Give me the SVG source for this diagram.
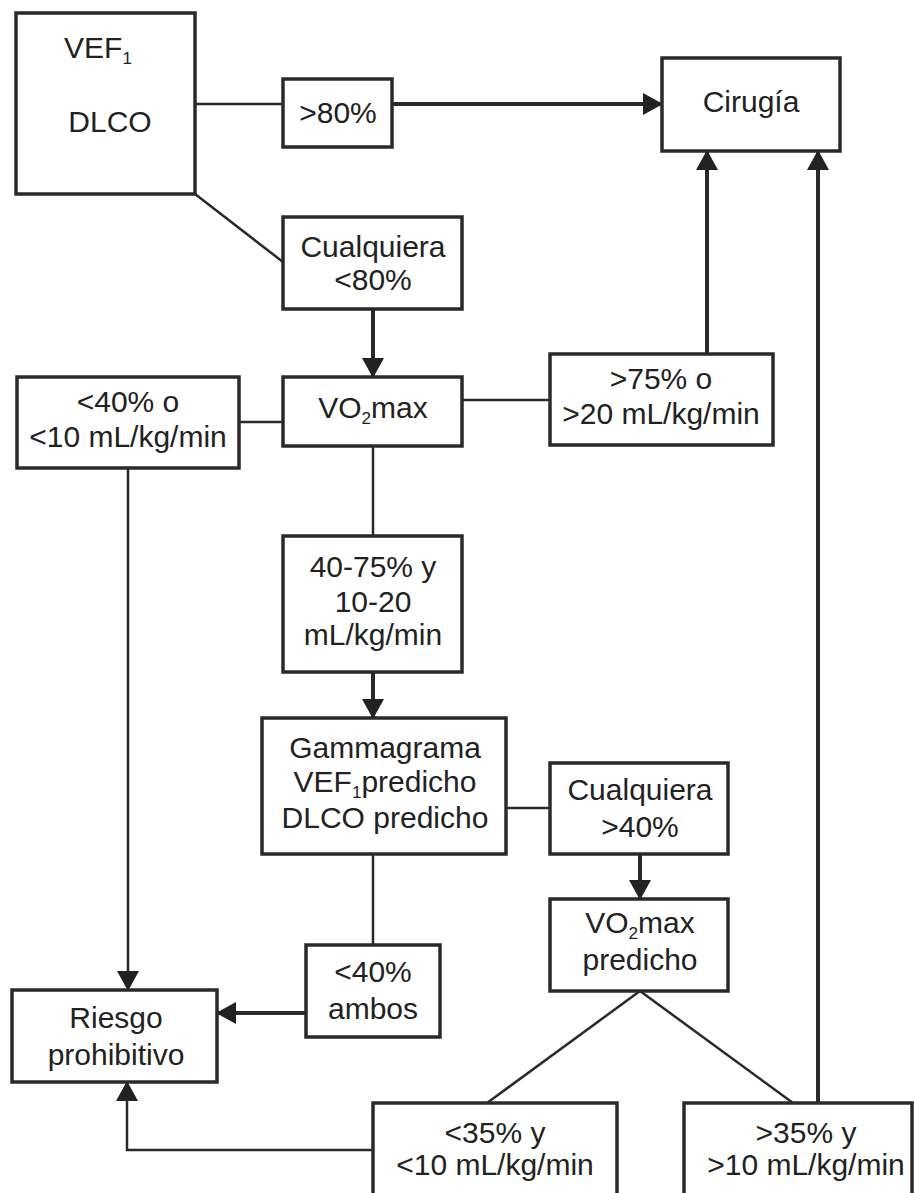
<svg xmlns="http://www.w3.org/2000/svg" width="914" height="1193" viewBox="0 0 914 1193">
<style>
.box{fill:#fff;stroke:#2a2a2a;stroke-width:3.5}
.t{font-family:"Liberation Sans",Arial,sans-serif;font-size:30px;fill:#222;text-anchor:middle}
.sub{font-size:17px}
.thin{stroke:#2a2a2a;stroke-width:2.5;fill:none}
.thick{stroke:#2a2a2a;stroke-width:4;fill:none}
</style>
<defs>
<marker id="ah" markerUnits="userSpaceOnUse" markerWidth="20" markerHeight="22" refX="19" refY="11" orient="auto">
<path d="M0,0 L20,11 L0,22 z" fill="#222"/>
</marker>
</defs>
<rect width="914" height="1193" fill="#fff"/>
<g id="connectors">
<line class="thin" x1="195" y1="104" x2="283" y2="104"/>
<line class="thick" x1="392" y1="104" x2="662" y2="104" marker-end="url(#ah)"/>
<line class="thin" x1="195" y1="194" x2="283" y2="262"/>
<line class="thick" x1="373" y1="309" x2="373" y2="377" marker-end="url(#ah)"/>
<line class="thin" x1="239" y1="422" x2="283" y2="422"/>
<line class="thin" x1="462" y1="400" x2="550" y2="400"/>
<line class="thick" x1="707" y1="354" x2="707" y2="151" marker-end="url(#ah)"/>
<line class="thick" x1="818" y1="1103" x2="818" y2="151" marker-end="url(#ah)"/>
<line class="thin" x1="373" y1="446" x2="373" y2="536"/>
<line class="thick" x1="373" y1="672" x2="373" y2="718" marker-end="url(#ah)"/>
<line class="thin" x1="128" y1="468" x2="128" y2="990" marker-end="url(#ah)"/>
<line class="thin" x1="506" y1="808" x2="550" y2="808"/>
<line class="thick" x1="640" y1="854" x2="640" y2="899" marker-end="url(#ah)"/>
<line class="thin" x1="373" y1="854" x2="373" y2="945"/>
<line class="thick" x1="306" y1="1013" x2="217" y2="1013" marker-end="url(#ah)"/>
<line class="thin" x1="640" y1="991" x2="487" y2="1103"/>
<line class="thin" x1="640" y1="991" x2="793" y2="1103"/>
<polyline class="thin" points="373,1150 127,1150 127,1082" marker-end="url(#ah)"/>
</g>
<g id="n-vef-dlco">
<rect class="box" x="16" y="13" width="179" height="181"/>
<text class="t" x="98" y="58">VEF<tspan class="sub" dy="6">1</tspan></text>
<text class="t" x="110" y="132">DLCO</text>
</g>
<g id="n-gt80">
<rect class="box" x="283" y="79" width="109" height="68"/>
<text class="t" x="338" y="123">&gt;80%</text>
</g>
<g id="n-cirugia">
<rect class="box" x="662" y="58" width="178" height="93"/>
<text class="t" x="751" y="112">Cirugía</text>
</g>
<g id="n-cualquiera80">
<rect class="box" x="283" y="217" width="179" height="92"/>
<text class="t" x="373" y="257">Cualquiera</text>
<text class="t" x="373" y="290">&lt;80%</text>
</g>
<g id="n-lt40">
<rect class="box" x="17" y="377" width="222" height="91"/>
<text class="t" x="128" y="412">&lt;40% o</text>
<text class="t" x="128" y="447">&lt;10 mL/kg/min</text>
</g>
<g id="n-vo2max">
<rect class="box" x="283" y="377" width="179" height="69"/>
<text class="t" x="373" y="418">VO<tspan class="sub" dy="6">2</tspan><tspan dy="-6">max</tspan></text>
</g>
<g id="n-gt75">
<rect class="box" x="550" y="354" width="223" height="91"/>
<text class="t" x="661" y="389">&gt;75% o</text>
<text class="t" x="661" y="424">&gt;20 mL/kg/min</text>
</g>
<g id="n-40-75">
<rect class="box" x="283" y="536" width="179" height="136"/>
<text class="t" x="373" y="577">40-75% y</text>
<text class="t" x="373" y="612">10-20</text>
<text class="t" x="373" y="645">mL/kg/min</text>
</g>
<g id="n-gammagrama">
<rect class="box" x="262" y="718" width="244" height="136"/>
<text class="t" x="385" y="758">Gammagrama</text>
<text class="t" x="385" y="792">VEF<tspan class="sub" dy="6">1</tspan><tspan dy="-6">predicho</tspan></text>
<text class="t" x="385" y="828">DLCO predicho</text>
</g>
<g id="n-cualquiera40">
<rect class="box" x="550" y="763" width="178" height="91"/>
<text class="t" x="640" y="800">Cualquiera</text>
<text class="t" x="640" y="837">&gt;40%</text>
</g>
<g id="n-vo2pred">
<rect class="box" x="550" y="899" width="178" height="92"/>
<text class="t" x="640" y="933">VO<tspan class="sub" dy="6">2</tspan><tspan dy="-6">max</tspan></text>
<text class="t" x="640" y="970">predicho</text>
</g>
<g id="n-lt40ambos">
<rect class="box" x="306" y="945" width="134" height="92"/>
<text class="t" x="373" y="982">&lt;40%</text>
<text class="t" x="373" y="1019">ambos</text>
</g>
<g id="n-riesgo">
<rect class="box" x="12" y="990" width="205" height="92"/>
<text class="t" x="116" y="1028">Riesgo</text>
<text class="t" x="116" y="1065">prohibitivo</text>
</g>
<g id="n-lt35">
<rect class="box" x="373" y="1103" width="244" height="100"/>
<text class="t" x="495" y="1143">&lt;35% y</text>
<text class="t" x="495" y="1175">&lt;10 mL/kg/min</text>
</g>
<g id="n-gt35">
<rect class="box" x="684" y="1103" width="228" height="100"/>
<text class="t" x="806" y="1143">&gt;35% y</text>
<text class="t" x="806" y="1175">&gt;10 mL/kg/min</text>
</g>
</svg>
